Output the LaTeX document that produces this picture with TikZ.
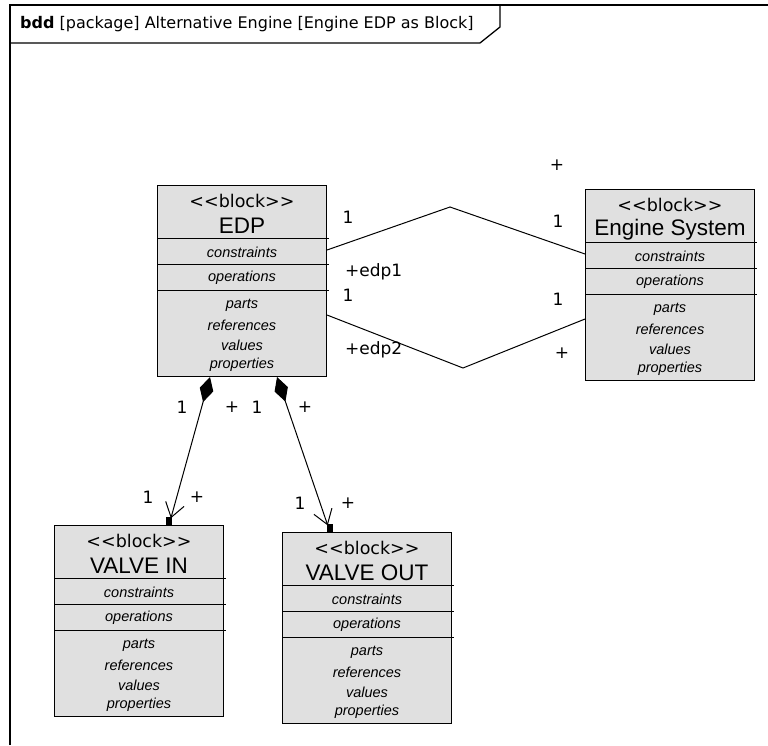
\documentclass[tikz,border=0pt]{standalone}
\usepackage{fontspec}
\setmainfont{Liberation Sans}
\newfontfamily\dvsfont{DejaVu Sans}
\usetikzlibrary{arrows.meta,calc}
\definecolor{blockfill}{RGB}{224,224,224}
\tikzset{
  blockbox/.style={draw=black,line width=1pt,fill=blockfill,anchor=north west,minimum width=169pt,minimum height=191pt,inner sep=0pt},
  stereo/.style={inner sep=0pt,font=\dvsfont\fontsize{17.5}{19}\selectfont},
  bname/.style={inner sep=0pt,font=\fontsize{22.5}{25}\selectfont},
  comp/.style={inner sep=0pt,font=\itshape\fontsize{14.5}{16}\selectfont},
  divline/.style={line width=1pt},
  lbl/.style={inner sep=0pt,font=\dvsfont\fontsize{17}{19}\selectfont},
  assoc/.style={line width=1pt},
  compo/.style={line width=1pt,{Diamond[length=26pt,width=14pt,fill=black]}-{Straight Barb[length=14pt,width=19pt,line width=1pt]},shorten >=7pt},
  framel/.style={line width=1.6pt},
}
\newcommand\mkblock[4]{%
  \node[blockbox] (#1) at (#2,#3) {};
  \node[stereo] (#1-st) at ($(#1.north)+(0,15.5)$) {<<block>>};
  \node[bname] (#1-nm) at ($(#1.north)+(0,41)$) {#4};
  \draw[divline] ($(#1.north west)+(0,53)$) -- ++(172,0);
  \draw[divline] ($(#1.north west)+(0,79)$) -- ++(172,0);
  \draw[divline] ($(#1.north west)+(0,105)$) -- ++(172,0);
  \node[comp] (#1-c) at ($(#1.north)+(0,67)$) {constraints};
  \node[comp] (#1-o) at ($(#1.north)+(0,93)$) {operations};
  \node[comp] (#1-p) at ($(#1.north)+(0,120)$) {parts};
  \node[comp] (#1-r) at ($(#1.north)+(0,140)$) {references};
  \node[comp] (#1-v) at ($(#1.north)+(0,160)$) {values};
  \node[comp] (#1-q) at ($(#1.north)+(0,180)$) {properties};
}
\begin{document}
\begin{tikzpicture}[x=1pt,y=-1pt]
\useasboundingbox (0,0) rectangle (768,745);
\fill[white] (0,0) rectangle (768,745);
% frame
\draw[framel] (10,745) -- (10,5) -- (768,5);
\draw[line width=1.3pt] (10,43) -- (480,43) -- (500,27) -- (500,5);
\node[anchor=west,inner sep=0pt,font=\dvsfont\fontsize{16}{18}\selectfont] (title) at (20,24) {\textbf{bdd} [package] Alternative Engine [Engine EDP as Block]};
% blocks
\mkblock{edp}{157}{185}{EDP}
\mkblock{eng}{585}{189}{Engine System}
\mkblock{vin}{54}{525}{VALVE IN}
\mkblock{vout}{282}{532}{VALVE OUT}
% associations
\coordinate (b1) at (450,207);
\coordinate (b2) at (463,368);
\draw[assoc] ($(edp.north east)+(0,65)$) -- (b1) -- ($(eng.north west)+(0,65)$);
\draw[assoc] ($(edp.north east)+(0,130)$) -- (b2) -- ($(eng.north west)+(0,130)$);
\node[lbl] (l1) at (348,217) {1};
\node[lbl] (l2) at (558,221) {1};
\node[lbl] (l3) at (557,165) {+};
\node[lbl,anchor=west] (l4) at (345,272) {+edp1};
\node[lbl] (l5) at (348,295) {1};
\node[lbl] (l6) at (558,299) {1};
\node[lbl,anchor=west] (l7) at (345,350) {+edp2};
\node[lbl] (l8) at (562,353) {+};
% compositions
\draw[compo] ($(edp.south west)+(53,0)$) -- ($(vin.north west)+(115,0)$);
\fill ($(vin.north west)+(112,0)$) rectangle ++(6,-8);
\draw[compo] ($(edp.south west)+(120,0)$) -- ($(vout.north west)+(48,0)$);
\fill ($(vout.north west)+(45,0)$) rectangle ++(6,-8);
\node[lbl] (m1) at (182,407) {1};
\node[lbl] (m2) at (232,407) {+};
\node[lbl] (m3) at (148,497) {1};
\node[lbl] (m4) at (197,497) {+};
\node[lbl] (m5) at (257,407) {1};
\node[lbl] (m6) at (305,407) {+};
\node[lbl] (m7) at (300,503) {1};
\node[lbl] (m8) at (348,503) {+};
\end{tikzpicture}
\end{document}
